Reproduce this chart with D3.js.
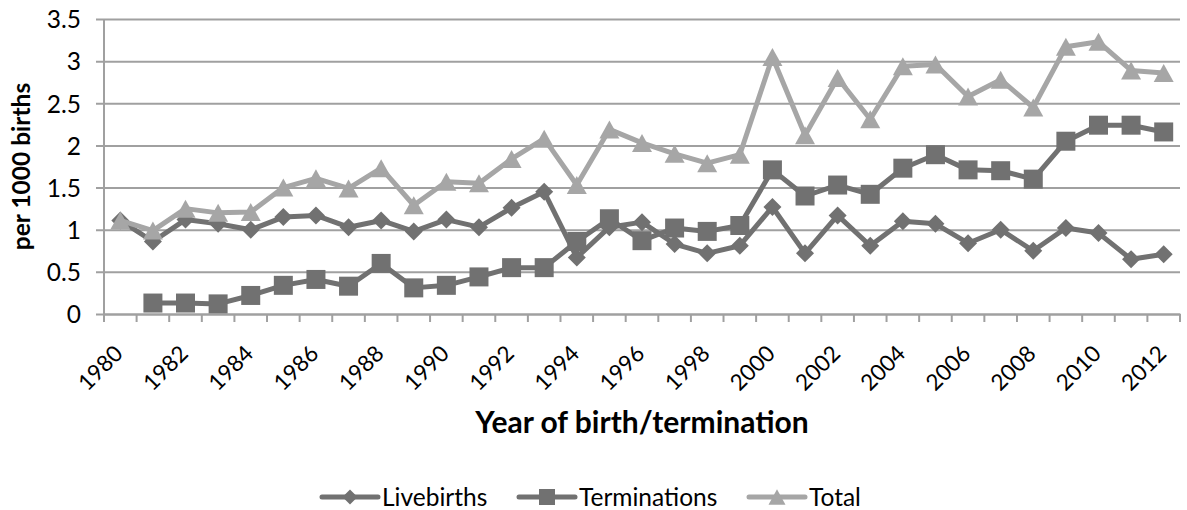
<!DOCTYPE html>
<html>
<head>
<meta charset="utf-8">
<script src="https://cdn.jsdelivr.net/npm/d3@7"></script>
<style>
  html, body { margin: 0; padding: 0; background: #fff; }
  svg { display: block; font-family: Lato, "Open Sans", sans-serif; }
</style>
</head>
<body>
<svg id="chart" width="1187" height="510"></svg>
<script>
// ---- data ----
const years = d3.range(1980, 2013);
const livebirths = [1.11, 0.86, 1.12, 1.07, 1.00, 1.15, 1.17, 1.03, 1.11, 0.98, 1.12, 1.03, 1.26, 1.45, 0.67, 1.03, 1.09, 0.83, 0.72, 0.81, 1.27, 0.72, 1.17, 0.81, 1.10, 1.07, 0.84, 1.00, 0.75, 1.02, 0.96, 0.65, 0.71];
const terminations = [null, 0.13, 0.13, 0.12, 0.22, 0.34, 0.41, 0.33, 0.60, 0.31, 0.34, 0.44, 0.55, 0.55, 0.86, 1.13, 0.87, 1.02, 0.98, 1.05, 1.71, 1.40, 1.53, 1.42, 1.73, 1.89, 1.71, 1.70, 1.60, 2.05, 2.24, 2.24, 2.16];
const total = [1.11, 0.99, 1.25, 1.20, 1.21, 1.50, 1.61, 1.49, 1.73, 1.29, 1.57, 1.55, 1.84, 2.08, 1.53, 2.19, 2.03, 1.90, 1.79, 1.89, 3.05, 2.12, 2.80, 2.31, 2.94, 2.96, 2.58, 2.78, 2.45, 3.17, 3.23, 2.89, 2.86];
const yTicks = [0, 0.5, 1, 1.5, 2, 2.5, 3, 3.5];
const xTickLabels = years.filter(y => y % 2 === 0);
const seriesNames = ["Livebirths", "Terminations", "Total"];

// ---- layout ----
const svg = d3.select("#chart");
const plot = { left: 104, right: 1180, top: 19, bottom: 314 };
const gridColor = "#a0a0a0";
const colors = { Livebirths: "#717171", Terminations: "#717171", Total: "#a6a6a6" };

const x = d3.scaleBand().domain(years).range([plot.left, plot.right]).padding(0);
const cx = d => x(d) + x.bandwidth() / 2;
const y = d3.scaleLinear().domain([0, 3.5]).range([plot.bottom, plot.top]);

// custom Excel-like symbols (size = marker width in px)
const diamond = { draw(c, s) { const r = s / 2; c.moveTo(0, -r); c.lineTo(r, 0); c.lineTo(0, r); c.lineTo(-r, 0); c.closePath(); } };
const square = { draw(c, s) { const r = s / 2; c.rect(-r, -r, s, s); } };
const triangle = { draw(c, s) { const r = s / 2; const h = s * 0.9 / 2; c.moveTo(0, -h); c.lineTo(r, h); c.lineTo(-r, h); c.closePath(); } };

// gridlines + y axis (tick marks outside: extend gridlines to the left)
const yAxis = d3.axisLeft(y).tickValues(yTicks).tickSize(-(plot.right - plot.left + 8)).tickPadding(0).tickFormat(d3.format("~g"));
const gy = svg.append("g").attr("transform", `translate(${plot.left - 8},0)`).call(yAxis);
gy.select(".domain").remove();
gy.selectAll(".tick line").attr("stroke", gridColor).attr("stroke-width", 2);
gy.selectAll(".tick text").attr("x", -15).attr("dy", "0.36em")
  .attr("fill", "#000").attr("font-size", 24.5).attr("font-family", "Lato, sans-serif");
svg.append("line").attr("x1", plot.left).attr("x2", plot.left)
  .attr("y1", plot.top).attr("y2", plot.bottom + 8)
  .attr("stroke", gridColor).attr("stroke-width", 2);

// x axis: boundary tick marks + labels at category centres
const boundaries = years.map(d => x(d)).concat([plot.right]);
svg.append("g").selectAll("line").data(boundaries).join("line")
  .attr("x1", d => d).attr("x2", d => d).attr("y1", plot.bottom).attr("y2", plot.bottom + 8)
  .attr("stroke", gridColor).attr("stroke-width", 2);
const xAxis = d3.axisBottom(x).tickValues(xTickLabels).tickSize(0).tickPadding(0);
const gx = svg.append("g").attr("transform", `translate(0,${plot.bottom})`).call(xAxis);
gx.select(".domain").attr("stroke", gridColor).attr("stroke-width", 2);
gx.selectAll(".tick text")
  .attr("font-size", 22.5).attr("font-family", "Lato, sans-serif").attr("fill", "#000")
  .attr("text-anchor", "end").attr("dy", 0).attr("y", 0)
  .attr("transform", "translate(4,41) rotate(-45)");

// axis titles
svg.append("text").attr("x", (plot.left + plot.right) / 2).attr("y", 433)
  .attr("text-anchor", "middle").attr("font-weight", "bold").attr("font-size", 30)
  .text("Year of birth/termination");
svg.append("text").attr("transform", `translate(30,${(plot.top + plot.bottom) / 2}) rotate(-90)`)
  .attr("text-anchor", "middle").attr("font-weight", "bold").attr("font-size", 24.5)
  .text("per 1000 births");

// series
const series = [
  { name: "Livebirths", values: livebirths, sym: diamond, size: 18 },
  { name: "Terminations", values: terminations, sym: square, size: 19 },
  { name: "Total", values: total, sym: triangle, size: 20 }
];
const line = d3.line().defined(d => d.v != null).x(d => cx(d.year)).y(d => y(d.v));
const gS = svg.append("g");
series.forEach(s => {
  const pts = years.map((yr, i) => ({ year: yr, v: s.values[i] }));
  gS.append("path").datum(pts).attr("d", line).attr("fill", "none")
    .attr("stroke", colors[s.name]).attr("stroke-width", 5).attr("stroke-linejoin", "round");
  gS.append("g").selectAll("path").data(pts.filter(d => d.v != null)).join("path")
    .attr("transform", d => `translate(${cx(d.year)},${y(d.v)})`)
    .attr("d", d3.symbol().type(s.sym).size(s.size))
    .attr("fill", colors[s.name]);
});

// legend
const legendY = 497;
const legendItems = [
  { name: "Livebirths", x0: 322, sym: diamond, size: 15 },
  { name: "Terminations", x0: 519, sym: square, size: 16 },
  { name: "Total", x0: 749, sym: triangle, size: 17 }
];
const gL = svg.append("g");
legendItems.forEach(it => {
  gL.append("line").attr("x1", it.x0).attr("x2", it.x0 + 56).attr("y1", legendY).attr("y2", legendY)
    .attr("stroke", colors[it.name]).attr("stroke-width", 5).attr("stroke-linecap", "round");
  gL.append("path").attr("transform", `translate(${it.x0 + 28},${legendY})`)
    .attr("d", d3.symbol().type(it.sym).size(it.size)).attr("fill", colors[it.name]);
  gL.append("text").attr("x", it.x0 + 60).attr("y", legendY).attr("dy", "0.36em")
    .attr("font-size", 24.5).attr("fill", "#000").text(it.name);
});
</script>
</body>
</html>
